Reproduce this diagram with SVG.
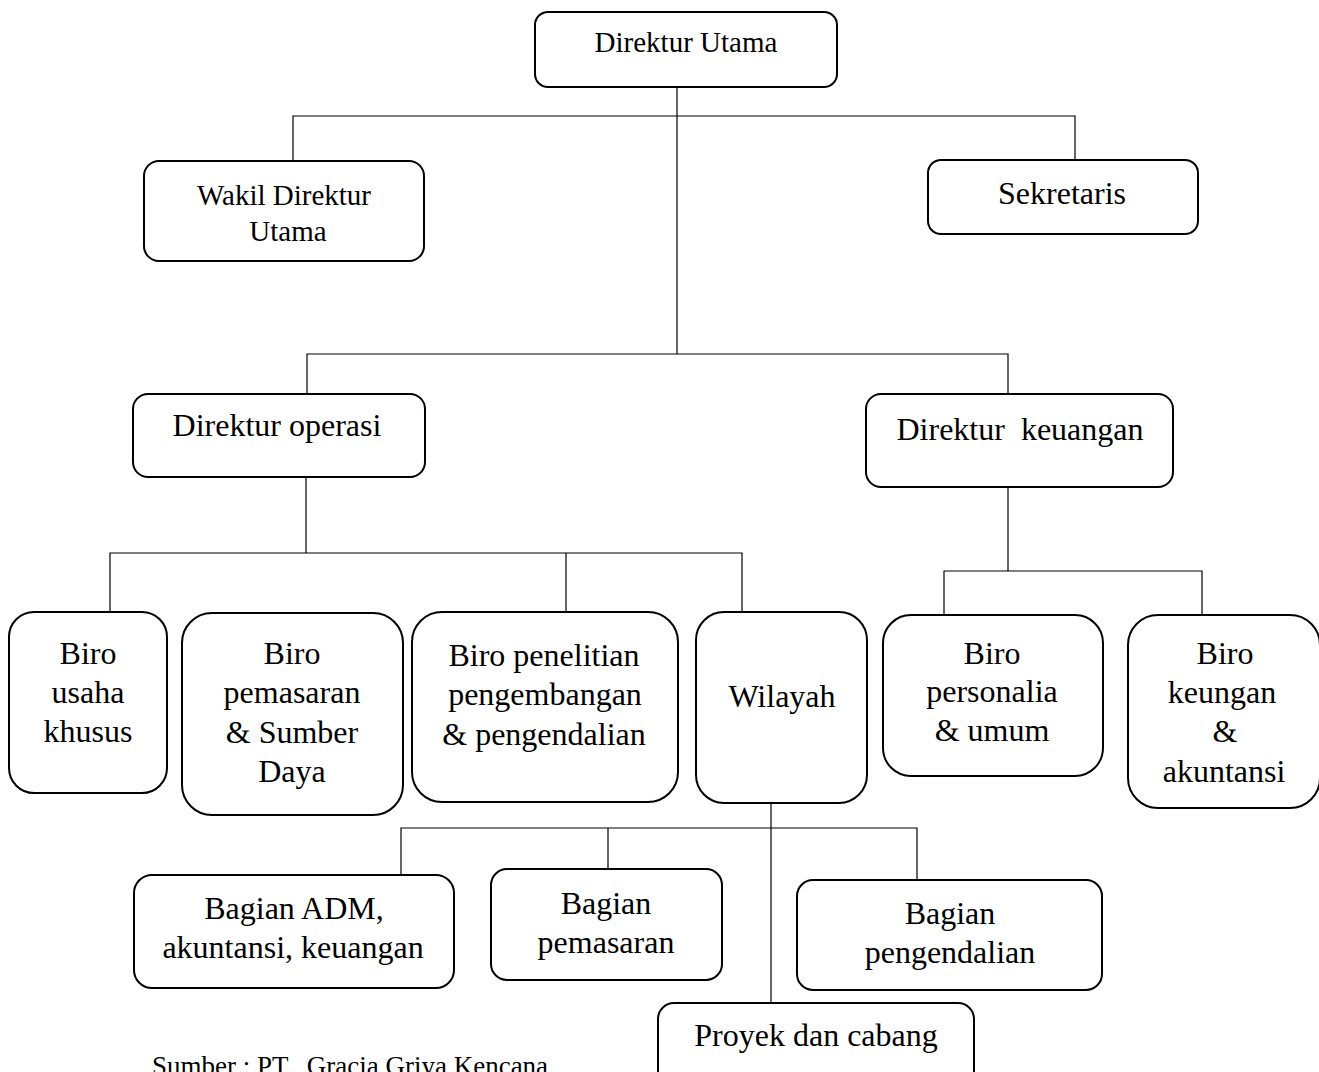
<svg xmlns="http://www.w3.org/2000/svg" width="1319" height="1072" viewBox="0 0 1319 1072">
<style>
.box{fill:#fff;stroke:#000;stroke-width:2}
.ln{stroke:#000;stroke-width:1.2;fill:none}
text{font-family:"Liberation Serif","Times New Roman",serif;fill:#000;text-anchor:middle}
.t29{font-size:29px}
.t32{font-size:32px}
.src{font-size:27px;text-anchor:start}
</style>
<rect width="1319" height="1072" fill="#fff"/>
<g id="connectors">
<path class="ln" d="M677,87 V354"/>
<path class="ln" d="M293,161 V116 H1075 V160"/>
<path class="ln" d="M307,394 V354 H1008 V394"/>
<path class="ln" d="M306,477 V553"/>
<path class="ln" d="M110,612 V553 H742 V612"/>
<path class="ln" d="M566,553 V612"/>
<path class="ln" d="M1008,487 V571"/>
<path class="ln" d="M944,615 V571 H1202 V615"/>
<path class="ln" d="M771,803 V1003"/>
<path class="ln" d="M401,875 V828 H917 V880"/>
<path class="ln" d="M608,828 V869"/>
</g>
<g id="direktur-utama">
<rect class="box" x="535" y="12" width="302" height="75" rx="13"/>
<text class="t29" x="686" y="52">Direktur Utama</text>
</g>
<g id="wakil-direktur-utama">
<rect class="box" x="144" y="161" width="280" height="100" rx="15"/>
<text class="t29" x="284" y="205">Wakil Direktur</text>
<text class="t29" x="288" y="241">Utama</text>
</g>
<g id="sekretaris">
<rect class="box" x="928" y="160" width="270" height="74" rx="13"/>
<text class="t32" x="1062" y="204">Sekretaris</text>
</g>
<g id="direktur-operasi">
<rect class="box" x="133" y="394" width="292" height="83" rx="15"/>
<text class="t32" x="277" y="436">Direktur operasi</text>
</g>
<g id="direktur-keuangan">
<rect class="box" x="866" y="394" width="307" height="93" rx="15"/>
<text class="t32" x="1020" y="440" xml:space="preserve">Direktur  keuangan</text>
</g>
<g id="biro-usaha-khusus">
<rect class="box" x="9" y="612" width="158" height="181" rx="25"/>
<text class="t32" x="88" y="664">Biro</text>
<text class="t32" x="88" y="703">usaha</text>
<text class="t32" x="88" y="742">khusus</text>
</g>
<g id="biro-pemasaran">
<rect class="box" x="182" y="613" width="221" height="202" rx="30"/>
<text class="t32" x="292" y="664">Biro</text>
<text class="t32" x="292" y="703">pemasaran</text>
<text class="t32" x="292" y="743">&amp; Sumber</text>
<text class="t32" x="292" y="782">Daya</text>
</g>
<g id="biro-penelitian">
<rect class="box" x="412" y="612" width="266" height="190" rx="30"/>
<text class="t32" x="544" y="666">Biro penelitian</text>
<text class="t32" x="545" y="705">pengembangan</text>
<text class="t32" x="544" y="745">&amp; pengendalian</text>
</g>
<g id="wilayah">
<rect class="box" x="696" y="612" width="171" height="191" rx="28"/>
<text class="t32" x="782" y="707">Wilayah</text>
</g>
<g id="biro-personalia">
<rect class="box" x="883" y="615" width="220" height="161" rx="28"/>
<text class="t32" x="992" y="664">Biro</text>
<text class="t32" x="992" y="702">personalia</text>
<text class="t32" x="992" y="741">&amp; umum</text>
</g>
<g id="biro-keungan">
<rect class="box" x="1128" y="615" width="192" height="193" rx="30"/>
<text class="t32" x="1225" y="664">Biro</text>
<text class="t32" x="1222" y="703">keungan</text>
<text class="t32" x="1225" y="742">&amp;</text>
<text class="t32" x="1224" y="782">akuntansi</text>
</g>
<g id="bagian-adm">
<rect class="box" x="134" y="875" width="320" height="113" rx="18"/>
<text class="t32" x="294" y="919">Bagian ADM,</text>
<text class="t32" x="293" y="958">akuntansi, keuangan</text>
</g>
<g id="bagian-pemasaran">
<rect class="box" x="491" y="869" width="231" height="111" rx="16"/>
<text class="t32" x="606" y="914">Bagian</text>
<text class="t32" x="606" y="953">pemasaran</text>
</g>
<g id="bagian-pengendalian">
<rect class="box" x="797" y="880" width="305" height="110" rx="16"/>
<text class="t32" x="950" y="924">Bagian</text>
<text class="t32" x="950" y="963">pengendalian</text>
</g>
<g id="proyek-dan-cabang">
<rect class="box" x="658" y="1003" width="316" height="90" rx="16"/>
<text class="t32" x="816" y="1046">Proyek dan cabang</text>
</g>
<text class="src" x="152" y="1075" xml:space="preserve">Sumber : PT.  Gracia Griya Kencana</text>
</svg>
